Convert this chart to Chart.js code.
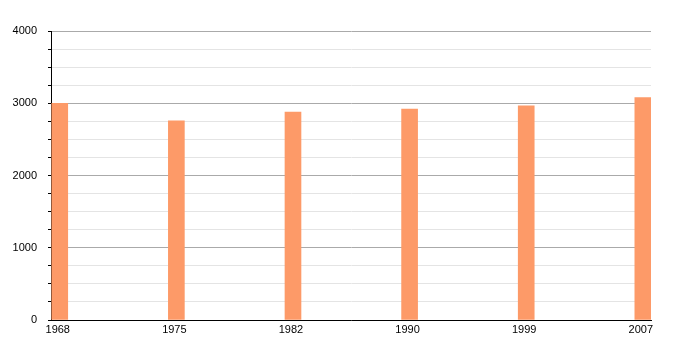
<!DOCTYPE html>
<html>
<head>
<meta charset="utf-8">
<script src="https://cdn.jsdelivr.net/npm/chart.js@4/dist/chart.umd.min.js"></script>
<style>
  html, body { margin: 0; padding: 0; background: #fff; }
  #wrap { width: 700px; height: 350px; }
</style>
</head>
<body>
<div id="wrap"><canvas id="myChart" width="700" height="350"></canvas></div>
<script>
// values
const years = ['1968', '1975', '1982', '1990', '1999', '2007'];
const population = [3000, 2758, 2879, 2920, 2966, 3077];
const yTicks = [0, 1000, 2000, 3000, 4000];

const ctx = document.getElementById('myChart').getContext('2d');
new Chart(ctx, {
  type: 'bar',
  data: {
    datasets: [{
      data: population.map((v, i) => ({ x: i, y: v })),
      backgroundColor: '#fd9a68',
      borderWidth: 0,
      barThickness: 16,
    }],
  },
  options: {
    responsive: false,
    animation: false,
    events: [],
    layout: { padding: { top: 31, right: 49, left: 0, bottom: 0 } },
    plugins: { legend: { display: false }, tooltip: { enabled: false } },
    scales: {
      x: {
        type: 'linear',
        offset: false,
        min: -0.075,
        max: 5.07,
        afterBuildTicks: (axis) => { axis.ticks = years.map((_, i) => ({ value: i })); },
        afterFit: (axis) => { axis.height = 30; },
        grid: { display: false, drawTicks: false, offset: false },
        border: { display: true, color: '#000', width: 1 },
        ticks: {
          padding: 3,
          labelOffset: -2,
          maxRotation: 0,
          autoSkip: false,
          color: '#000',
          font: { family: 'Liberation Sans, Arial, sans-serif', size: 11 },
          callback: (v) => years[v],
        },
      },
      y: {
        min: 0,
        max: 4000,
        afterFit: (axis) => { axis.width = 51; },
        grid: {
          color: (c) => (c.tick && yTicks.includes(c.tick.value) ? '#aaaaaa' : '#e4e4e4'),
          tickColor: '#000',
          tickLength: 3,
        },
        border: { display: true, color: '#000', width: 1 },
        ticks: {
          stepSize: 250,
          padding: 11,
          autoSkip: false,
          color: '#000',
          font: { family: 'Liberation Sans, Arial, sans-serif', size: 11 },
          callback: (v) => (yTicks.includes(v) ? String(v) : ''),
        },
      },
    },
  },
});
</script>
</body>
</html>
